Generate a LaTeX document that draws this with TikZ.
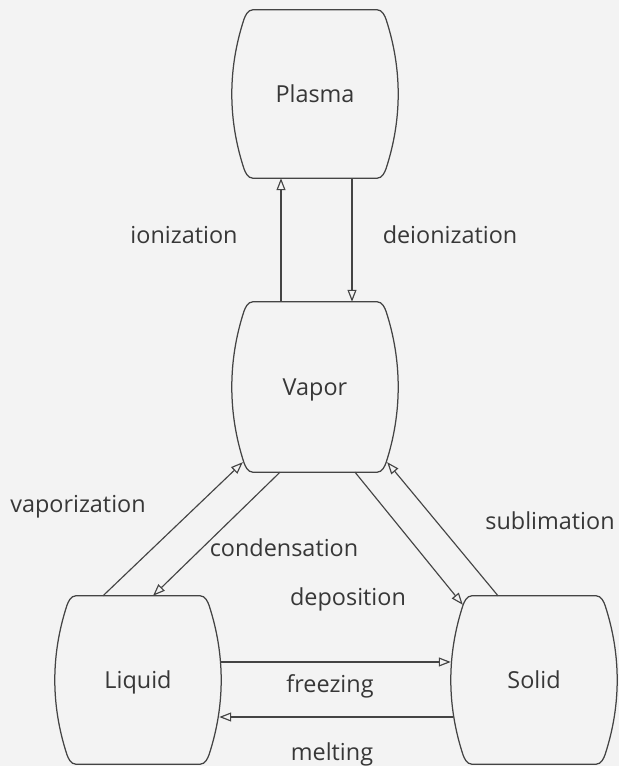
\documentclass[tikz,border=0pt]{standalone}
\usepackage{fontspec}
\setmainfont{Open Sans}
\usetikzlibrary{arrows.meta,calc}
\definecolor{paper}{RGB}{243,243,243}
\definecolor{ink}{RGB}{68,68,68}
\definecolor{textink}{RGB}{55,55,55}
\tikzset{
  statebox/.style={minimum width=166bp, minimum height=168bp, inner sep=0pt,
    text depth=0pt, font=\fontsize{23.5}{26}\selectfont, text=textink},
  barrel/.style={draw=ink, line width=1.25bp},
  flow/.style={draw=ink, line width=1.15bp, -{Triangle[open,length=12bp,width=9bp]}},
  changelabel/.style={font=\fontsize{23.5}{26}\selectfont, text=textink, anchor=base, inner sep=0pt},
}
% barrel outline: flat top and bottom, rounded corners, sides bowed outwards
\newcommand\barrelpath[1]{%
  \draw[barrel]
    ($(#1.north west)+(21bp,0)$) -- ($(#1.north east)+(-21bp,0)$)
    .. controls ($(#1.north east)+(-16bp,0)$) and ($(#1.north east)+(-13.3bp,-6bp)$) .. ($(#1.north east)+(-12bp,-10bp)$)
    .. controls ($(#1.north east)+(4bp,-59.3bp)$) and ($(#1.south east)+(4bp,59.3bp)$) .. ($(#1.south east)+(-12bp,10bp)$)
    .. controls ($(#1.south east)+(-13.3bp,6bp)$) and ($(#1.south east)+(-16bp,0)$) .. ($(#1.south east)+(-21bp,0)$)
    -- ($(#1.south west)+(21bp,0)$)
    .. controls ($(#1.south west)+(16bp,0)$) and ($(#1.south west)+(13.3bp,6bp)$) .. ($(#1.south west)+(12bp,10bp)$)
    .. controls ($(#1.south west)+(-4bp,59.3bp)$) and ($(#1.north west)+(-4bp,-59.3bp)$) .. ($(#1.north west)+(12bp,-10bp)$)
    .. controls ($(#1.north west)+(13.3bp,-6bp)$) and ($(#1.north west)+(16bp,0)$) .. cycle;}
\begin{document}
\begin{tikzpicture}[x=1bp,y=1bp]
\fill[paper] (0,0) rectangle (619,766);
\useasboundingbox (0,0) rectangle (619,766);

% states of matter
\node[statebox] (plasma) at (315,672) {Plasma};
\node[statebox, minimum height=170bp] (vapor) at (315,379) {Vapor};
\node[statebox] (liquid) at (138,86) {Liquid};
\node[statebox] (solid) at (534,86) {Solid};
\foreach \s in {plasma,vapor,liquid,solid} {\barrelpath{\s}}

% transitions
\draw[flow] ($(vapor.north)+(-34bp,0)$) -- ($(plasma.south)+(-34bp,0)$);
\draw[flow] ($(plasma.south)+(37bp,0)$) -- ($(vapor.north)+(37bp,0)$);
\draw[flow] ($(liquid.north)+(-35bp,0)$) -- ($(vapor.south west)+(11bp,10bp)$);
\draw[flow] ($(vapor.south)+(-35bp,0)$) -- ($(liquid.north)+(15bp,0)$);
\draw[flow] ($(vapor.south)+(40bp,0)$) -- ($(solid.north west)+(12bp,-9bp)$);
\draw[flow] ($(solid.north)+(-36bp,0)$) -- ($(vapor.south east)+(-11bp,10bp)$);
\draw[flow] ($(liquid.east)+(0,18bp)$) -- ($(solid.west)+(0,18bp)$);
\draw[flow] ($(solid.west)+(2bp,-37bp)$) -- ($(liquid.east)+(-2bp,-37bp)$);

% transition names
\node[changelabel] (ionization) at (184,522) {ionization};
\node[changelabel] (deionization) at (450,522) {deionization};
\node[changelabel] (vaporization) at (78,253) {vaporization};
\node[changelabel] (sublimation) at (550,236) {sublimation};
\node[changelabel] (condensation) at (284,209) {condensation};
\node[changelabel] (deposition) at (348,160) {deposition};
\node[changelabel] (freezing) at (330,73) {freezing};
\node[changelabel] (melting) at (332,5) {melting};
\end{tikzpicture}
\end{document}
